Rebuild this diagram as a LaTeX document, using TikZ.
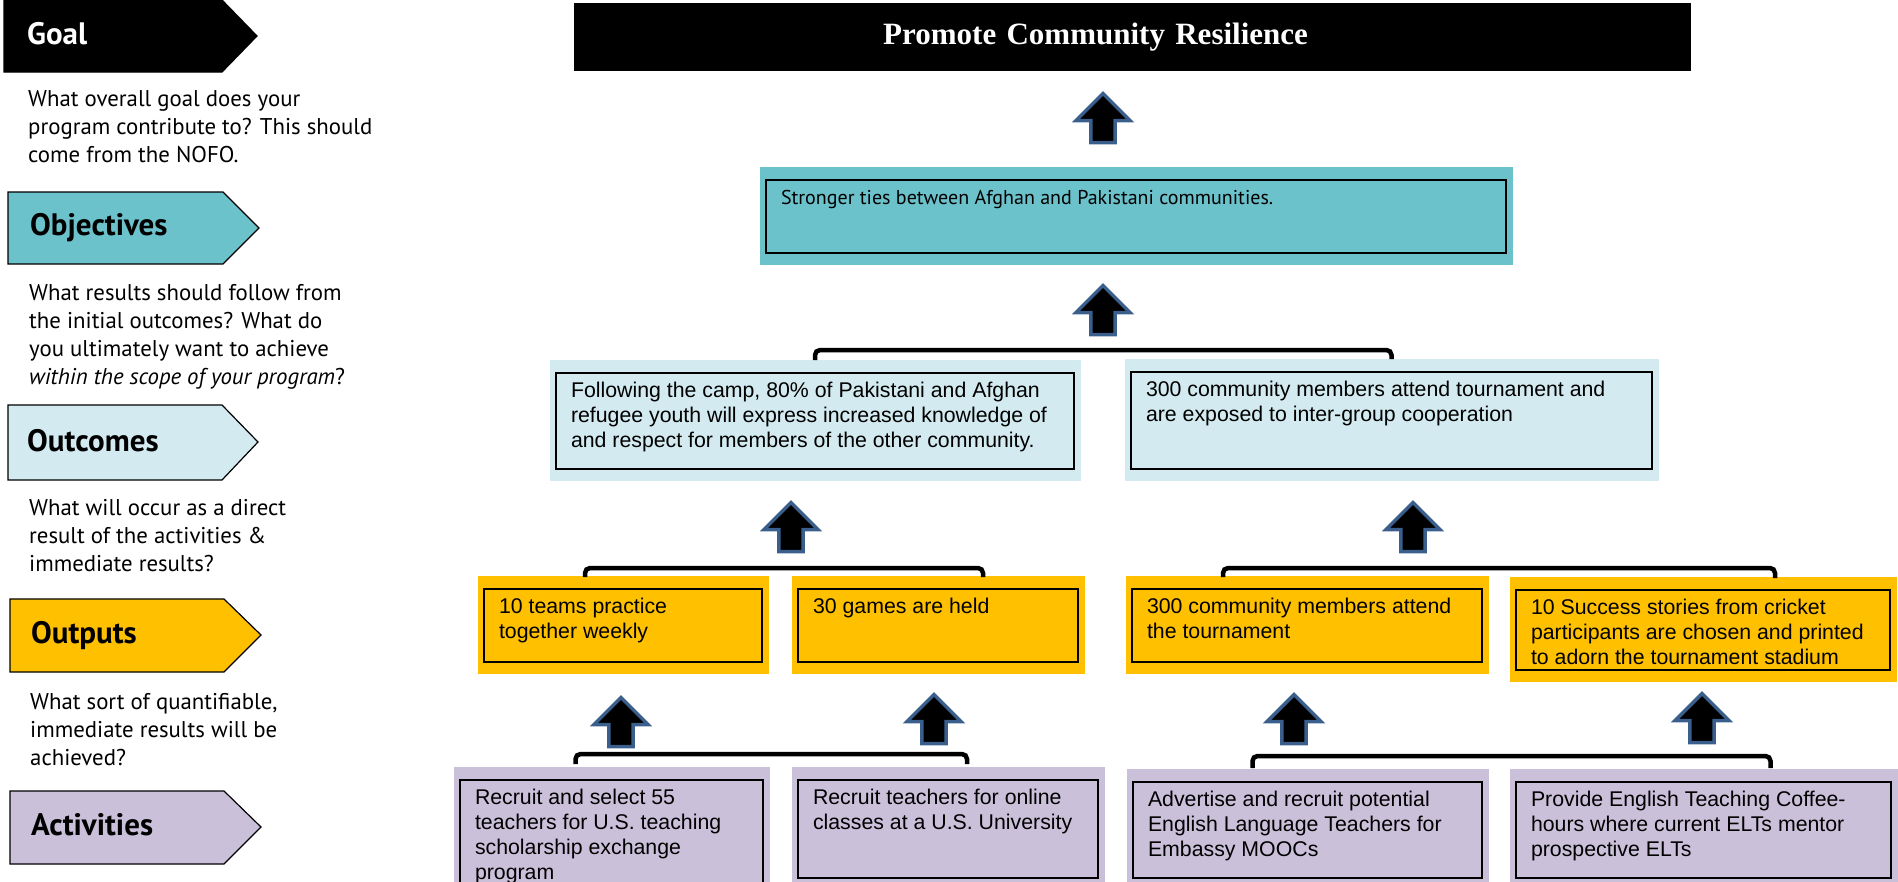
\documentclass[tikz,border=0pt]{standalone}
\usepackage{fontspec}
\setmainfont{Liberation Sans}
\newfontfamily\gillfont{PT Sans}
\newfontfamily\titlefont{Liberation Serif}
\usepackage{xcolor}
\usepackage{tikz}
\usetikzlibrary{backgrounds}
\definecolor{objcol}{RGB}{107,194,203}
\definecolor{occol}{RGB}{211,235,240}
\definecolor{outcol}{RGB}{255,192,0}
\definecolor{actcol}{RGB}{203,192,218}
\definecolor{arrowblue}{RGB}{58,95,140}
\newcommand{\boxtext}[3]{\parbox[t][#2][t]{#1}{\raggedright\rule{0pt}{18pt}#3}}
\newcommand{\desctext}[1]{\parbox[t]{400pt}{\raggedright #1}}
\tikzstyle{chevron} = [draw=black, line width=1.2pt]
\tikzstyle{lvlname} = [anchor=base west, inner sep=0pt, font=\gillfont\bfseries\fontsize{31}{34}\selectfont]
\tikzstyle{lvldesc} = [anchor=base west, inner sep=0pt, font=\gillfont\fontsize{22.8}{28}\selectfont]
\tikzstyle{goalbar} = [rectangle, fill=black, text=white, anchor=north west, minimum height=68pt, inner xsep=309pt, inner ysep=0pt, text width=499pt, align=left, font=\titlefont\bfseries\fontsize{31}{36}\selectfont]
\tikzstyle{resbox} = [rectangle, draw=black, line width=2pt, anchor=north west, inner xsep=15pt, inner ysep=6pt, font=\fontsize{21.3}{25}\selectfont]
\tikzstyle{objective} = [resbox, fill=objcol, font=\gillfont\fontsize{20}{24}\selectfont]
\tikzstyle{outcome} = [resbox, fill=occol]
\tikzstyle{output} = [resbox, fill=outcol]
\tikzstyle{activity} = [resbox, fill=actcol]
\tikzstyle{bracket} = [line width=4.5pt, rounded corners=5pt]
\tikzset{
  uparrow/.pic={
    \draw[arrowblue, fill=black, line width=3.5pt, miter limit=4]
      (0,-24.5) -- (27,2.5) -- (12.2,2.5) -- (12.2,24.5) -- (-12.2,24.5)
      -- (-12.2,2.5) -- (-27,2.5) -- cycle;
    \coordinate (-tip) at (0,-24.5);
  }
}

\begin{document}
\begin{tikzpicture}[x=1pt, y=-1pt]
\useasboundingbox (0,0) rectangle (1898,881);
\clip (0,0) rectangle (1898,881);

% left column
\draw[chevron, fill=black] (4,0) -- (222,0) -- (257,36) -- (222,72) -- (4,72) -- cycle;
\draw[chevron, fill=objcol] (8,192) -- (223,192) -- (259,228) -- (223,264) -- (8,264) -- cycle;
\draw[chevron, fill=occol] (8,405) -- (222,405) -- (258,442) -- (222,480) -- (8,480) -- cycle;
\draw[chevron, fill=outcol] (10,599) -- (224,599) -- (261,635) -- (224,672) -- (10,672) -- cycle;
\draw[chevron, fill=actcol] (10,791) -- (224,791) -- (261,827) -- (224,864) -- (10,864) -- cycle;
\node[lvlname, text=white] (goal) at (27,44) {Goal};
\node[lvlname] (objectives) at (30,235) {Objectives};
\node[lvlname] (outcomes) at (27,451) {Outcomes};
\node[lvlname] (outputs) at (31,643) {Outputs};
\node[lvlname] (activities) at (31,835) {Activities};
\node[lvldesc] (goaldesc) at (28,106) {\desctext{What overall goal does your\\program contribute to? This should\\come from the NOFO.}};
\node[lvldesc] (objdesc) at (29,300) {\desctext{What results should follow from\\the initial outcomes? What do\\you ultimately want to achieve\\\textit{within the scope of your program}?}};
\node[lvldesc] (ocdesc) at (29,515) {\desctext{What will occur as a direct\\result of the activities \&\\immediate results?}};
\node[lvldesc] (outdesc) at (30,709) {\desctext{What sort of quantifiable,\\immediate results will be\\achieved?}};

% goal
\node[goalbar] (promote) at (574,3) {Promote Community Resilience};

% objective
\node[objective] (obj) at (765,179) {\boxtext{710pt}{61pt}{Stronger ties between Afghan and Pakistani communities.}};

% outcomes
\node[outcome] (oc1) at (555,372) {\boxtext{488pt}{84pt}{Following the camp, 80\% of Pakistani and Afghan\\refugee youth will express increased knowledge of\\and respect for members of the other community.}};
\node[outcome] (oc2) at (1130,371) {\boxtext{491pt}{85pt}{300 community members attend tournament and\\are exposed to inter-group cooperation}};

% outputs
\node[output] (out1) at (483,588) {\boxtext{248pt}{61pt}{10 teams practice\\together weekly}};
\node[output] (out2) at (797,588) {\boxtext{250pt}{61pt}{30 games are held}};
\node[output] (out3) at (1131,588) {\boxtext{320pt}{61pt}{300 community members attend\\the tournament}};
\node[output] (out4) at (1515,589) {\boxtext{344pt}{68pt}{10 Success stories from cricket\\participants are chosen and printed\\to adorn the tournament stadium}};

% activities
\node[activity] (act1) at (459,779) {\boxtext{273pt}{100pt}{Recruit and select 55\\teachers for U.S. teaching\\scholarship exchange\\program}};
\node[activity] (act2) at (797,779) {\boxtext{270pt}{86pt}{Recruit teachers for online\\classes at a U.S. University}};
\node[activity] (act3) at (1132,781) {\boxtext{319pt}{84pt}{Advertise and recruit potential\\English Language Teachers for\\Embassy MOOCs}};
\node[activity] (act4) at (1515,781) {\boxtext{345pt}{84pt}{Provide English Teaching Coffee-\\hours where current ELTs mentor\\prospective ELTs}};

% coloured frames
\begin{scope}[on background layer]
\foreach \b/\c in {obj/objcol, oc1/occol, oc2/occol, out1/outcol, out2/outcol, out3/outcol, out4/outcol, act1/actcol, act2/actcol, act3/actcol, act4/actcol}
  \fill[\c] ([shift={(-5,-12)}]\b.north west) rectangle ([shift={(6,11)}]\b.south east);
\end{scope}

% up arrows
\pic (up1) at (1103,118) {uparrow};
\pic (up2) at (1103,310) {uparrow};
\pic (up3) at (791,527) {uparrow};
\pic (up4) at (1413,527) {uparrow};
\pic (up5) at (621,722) {uparrow};
\pic (up6) at (934,719) {uparrow};
\pic (up7) at (1294,719) {uparrow};
\pic (up8) at (1702,718) {uparrow};

% brackets
\draw[bracket] ([yshift=12pt]oc1.north) -- ++(0,-10) -| ([yshift=12pt]oc2.north);
\draw[bracket] ([xshift=-38pt, yshift=11pt]out1.north) -- ++(0,-9) -| ([xshift=45pt, yshift=11pt]out2.north);
\draw[bracket] ([xshift=-84pt, yshift=11pt]out3.north) -- ++(0,-9) -| ([xshift=72pt, yshift=11pt]out4.north);
\draw[bracket] ([xshift=-36pt, yshift=15pt]act1.north) -- ++(0,-10) -| ([xshift=19pt, yshift=15pt]act2.north);
\draw[bracket] ([xshift=-55pt, yshift=13pt]act3.north) -- ++(0,-12) -| ([xshift=67pt, yshift=13pt]act4.north);
\end{tikzpicture}
\end{document}
